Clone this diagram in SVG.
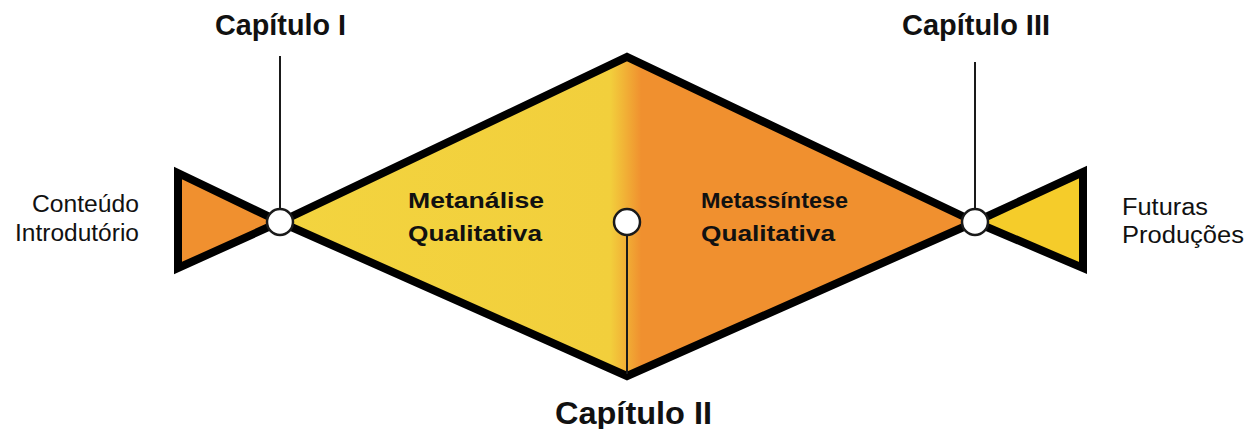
<svg xmlns="http://www.w3.org/2000/svg" width="1248" height="429" viewBox="0 0 1248 429">
<style>
.shape{stroke:#000;stroke-width:8;stroke-linejoin:miter}
.conn{stroke:#1a1a1a;stroke-width:2;fill:none}
.dot{fill:#fff;stroke:#1a1a1a;stroke-width:2.5}
.cap{font-family:"Liberation Sans",Arial,sans-serif;font-weight:bold;font-size:29px;fill:#111}
.lab{font-family:"Liberation Sans",Arial,sans-serif;font-size:23px;fill:#111}
.in{font-family:"Liberation Sans",Arial,sans-serif;font-weight:bold;font-size:22px;fill:#111}
</style>
<defs>
<linearGradient id="g" x1="280" y1="0" x2="975" y2="0" gradientUnits="userSpaceOnUse">
<stop offset="0" stop-color="#F3D43F"/>
<stop offset="0.475" stop-color="#F2CF3C"/>
<stop offset="0.52" stop-color="#F0902F"/>
<stop offset="1" stop-color="#F0902F"/>
</linearGradient>
</defs>
<rect width="1248" height="429" fill="#fff"/>
<g id="triangulo-esquerdo"><polygon class="shape" points="178,173 178,268 280,222" fill="#F0902F"/></g>
<g id="losango"><polygon class="shape" points="280,222 627,57 975,222 627,376" fill="url(#g)"/></g>
<g id="triangulo-direito"><polygon class="shape" points="975,222 1083,172 1083,268" fill="#F5CC2A"/></g>
<g id="conectores">
<line class="conn" x1="280" y1="56" x2="280" y2="209"/>
<line class="conn" x1="975" y1="62" x2="975" y2="209"/>
<line class="conn" x1="627" y1="236" x2="627" y2="374"/>
</g>
<g id="no-cap1"><circle class="dot" cx="280" cy="222" r="13"/><text class="cap" x="215" y="35" textLength="131" lengthAdjust="spacingAndGlyphs">Capítulo I</text></g>
<g id="no-cap2"><circle class="dot" cx="627" cy="222" r="13"/><text class="cap" x="555" y="424" style="font-size:32px" textLength="157" lengthAdjust="spacingAndGlyphs">Capítulo II</text></g>
<g id="no-cap3"><circle class="dot" cx="975" cy="222" r="13"/><text class="cap" x="902" y="35" textLength="148" lengthAdjust="spacingAndGlyphs">Capítulo III</text></g>
<g id="conteudo"><text class="lab" x="32" y="212" textLength="107" lengthAdjust="spacingAndGlyphs">Conteúdo</text><text class="lab" x="15" y="241" textLength="124" lengthAdjust="spacingAndGlyphs">Introdutório</text></g>
<g id="futuras"><text class="lab" x="1122" y="215" textLength="86" lengthAdjust="spacingAndGlyphs">Futuras</text><text class="lab" x="1122" y="243" textLength="122" lengthAdjust="spacingAndGlyphs">Produções</text></g>
<g id="metanalise"><text class="in" x="408" y="208" textLength="136" lengthAdjust="spacingAndGlyphs">Metanálise</text><text class="in" x="408" y="241" textLength="134" lengthAdjust="spacingAndGlyphs">Qualitativa</text></g>
<g id="metassintese"><text class="in" x="701" y="208" textLength="147" lengthAdjust="spacingAndGlyphs">Metassíntese</text><text class="in" x="701" y="241" textLength="134" lengthAdjust="spacingAndGlyphs">Qualitativa</text></g>
</svg>
